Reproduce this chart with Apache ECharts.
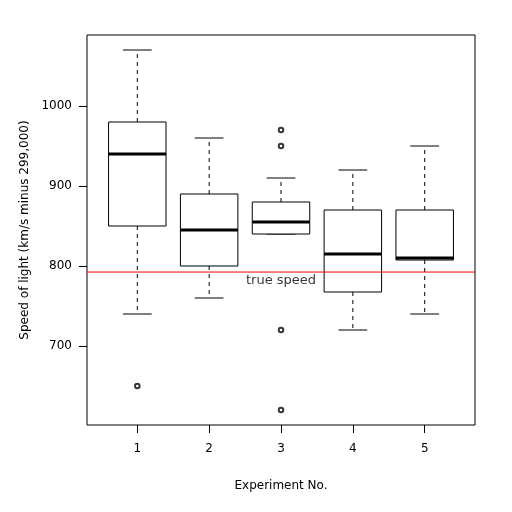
<!DOCTYPE html>
<html><head><meta charset="utf-8">
<script src="https://cdn.jsdelivr.net/npm/echarts@6/dist/echarts.min.js"></script>
<style>html,body{margin:0;padding:0;background:#fff}#c{width:512px;height:512px}</style>
</head><body><div id="c"></div>
<script>
const experiments = [1, 2, 3, 4, 5];
const whiskerLow = [740, 760, 840, 720, 740];
const q1 = [850, 800, 840, 767.5, 807.5];
const medians = [940, 845, 855, 815, 810];
const q3 = [980, 890, 880, 870, 870];
const whiskerHigh = [1070, 960, 910, 920, 950];
const outliers = [[1, 650], [3, 620], [3, 720], [3, 950], [3, 970]];
const trueSpeed = 792.458;
const yTicks = [700, 800, 900, 1000];

const boxData = experiments.map((e, i) => [e, whiskerLow[i], q1[i], medians[i], q3[i], whiskerHigh[i]]);
const FONT = 'DejaVu Sans';

const chart = echarts.init(document.getElementById('c'), null, {renderer: 'canvas'});
chart.setOption({
  animation: false,
  grid: {left: 87, right: 37, top: 35, bottom: 87, show: true, borderColor: '#000', borderWidth: 1, backgroundColor: 'transparent'},
  xAxis: {
    type: 'value', min: 0.3, max: 5.7,
    name: 'Experiment No.', nameLocation: 'middle', nameGap: 55,
    nameTextStyle: {fontFamily: FONT, fontSize: 12, color: '#000'},
    axisLine: {show: false}, splitLine: {show: false},
    axisTick: {show: true, length: 8, inside: false, lineStyle: {color: '#000'}, customValues: experiments},
    axisLabel: {fontFamily: FONT, fontSize: 12, color: '#000', margin: 18, customValues: experiments}
  },
  yAxis: {
    type: 'value', min: 601.25, max: 1088.75,
    name: 'Speed of light (km/s minus 299,000)', nameLocation: 'middle', nameGap: 49,
    nameTextStyle: {fontFamily: FONT, fontSize: 12, color: '#000'},
    axisLine: {show: false}, splitLine: {show: false},
    axisTick: {show: true, length: 8, lineStyle: {color: '#000'}, customValues: yTicks},
    axisLabel: {fontFamily: FONT, fontSize: 12, color: '#000', margin: 15, customValues: yTicks, formatter: v => String(v)}
  },
  series: [
    {
      type: 'custom',
      data: boxData,
      renderItem: function (params, api) {
        const x = api.value(0);
        const lo = api.value(1), a = api.value(2), m = api.value(3), b = api.value(4), hi = api.value(5);
        const halfBox = 0.4, halfCap = 0.2;
        const pL = api.coord([x - halfBox, a]), pR = api.coord([x + halfBox, b]);
        const cl = api.coord([x - halfCap, lo]), cr = api.coord([x + halfCap, lo]);
        const hl = api.coord([x - halfCap, hi]), hr = api.coord([x + halfCap, hi]);
        const pa = api.coord([x, a]), pb = api.coord([x, b]);
        const ml = api.coord([x - halfBox, m]), mr = api.coord([x + halfBox, m]);
        const stroke = {stroke: '#000', lineWidth: 1, fill: null};
        return {
          type: 'group',
          children: [
            {type: 'line', shape: {x1: pb[0], y1: pb[1], x2: pb[0], y2: hl[1]}, style: {stroke: '#000', lineWidth: 1, lineDash: [4, 4]}},
            {type: 'line', shape: {x1: pa[0], y1: pa[1], x2: pa[0], y2: cl[1]}, style: {stroke: '#000', lineWidth: 1, lineDash: [4, 4]}},
            {type: 'line', shape: {x1: hl[0], y1: hl[1], x2: hr[0], y2: hr[1]}, style: stroke},
            {type: 'line', shape: {x1: cl[0], y1: cl[1], x2: cr[0], y2: cr[1]}, style: stroke},
            {type: 'rect', shape: {x: pL[0], y: pR[1], width: pR[0] - pL[0], height: pL[1] - pR[1]}, style: {stroke: '#000', lineWidth: 1, fill: '#fff'}},
            {type: 'line', shape: {x1: ml[0], y1: ml[1], x2: mr[0], y2: mr[1]}, style: {stroke: '#000', lineWidth: 3}}
          ]
        };
      }
    },
    {
      type: 'scatter', data: outliers, symbol: 'emptyCircle', symbolSize: 4.5,
      itemStyle: {color: '#000', borderColor: '#000', borderWidth: 0.6}
    },
    {
      type: 'line', data: [[0.3, trueSpeed], [5.7, trueSpeed]], symbol: 'none',
      lineStyle: {color: '#ff0000', width: 1}, z: 5
    },
    {
      type: 'scatter', data: [[3, 782]], symbolSize: 0,
      label: {show: true, formatter: 'true speed', position: 'inside', fontFamily: FONT, fontSize: 13, color: '#000'}, z: 6
    }
  ]
});
</script></body></html>
